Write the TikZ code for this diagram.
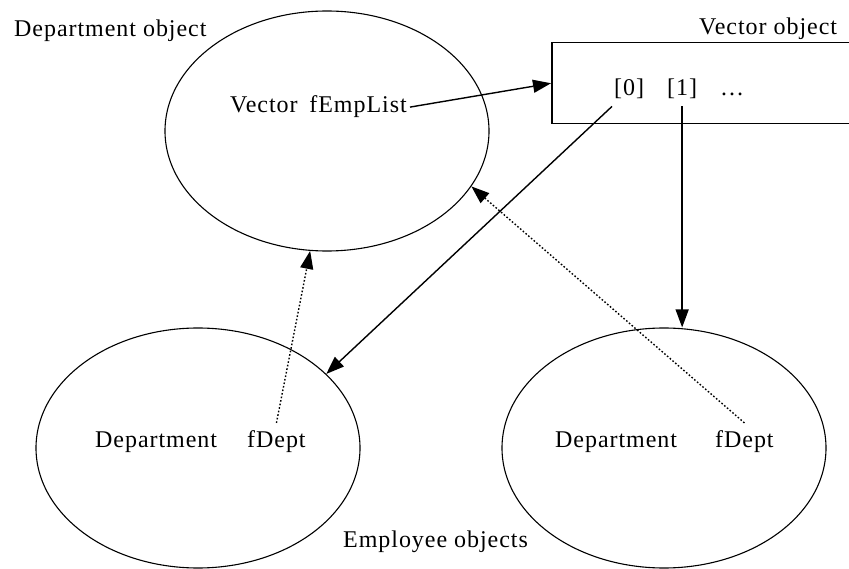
\documentclass[tikz,border=0pt]{standalone}
\usepackage{fontspec}
\setmainfont{Liberation Serif}[LetterSpace=4]
\usetikzlibrary{shapes.geometric,arrows.meta}
\tikzset{objnode/.style={draw,ellipse,line width=1.1pt,minimum width=324pt,minimum height=240pt,inner sep=0pt},
 txt/.style={anchor=base west,inner sep=0pt,font=\fontsize{24}{28}\selectfont},
 ptr/.style={line width=1.4pt,-{Triangle[length=18pt,width=13pt]}},
 backptr/.style={ptr,dash pattern=on 1.6pt off 2pt},
 }

\begin{document}
\begin{tikzpicture}[x=1pt,y=-1pt]
    \useasboundingbox (0,0) rectangle (849,569);
    \clip (0,0) rectangle (849,569);
    % objects
    \node[objnode] (dept) at (327,131) {};
    \node[objnode] (empA) at (198,448) {};
    \node[objnode] (empB) at (664,448) {};
    \node[draw,line width=1.5pt,anchor=north west,minimum width=340pt,minimum height=81pt] (vecbox) at (551,42) {};
    % texts
    \node[txt] (deptlbl) at (14,37) {Department object};
    \node[txt] (veclbl) at (699,35) {Vector object};
    \node[txt] (emplist) at (230,113) {Vector\hspace{0.2em} fEmpList};
    \node[txt] (idx0) at (614,96) {[0]};
    \node[txt] (idx1) at (667,96) {[1]};
    \node[txt] (more) at (720,96) {…};
    \node[txt] (deptA) at (95,447) {Department};
    \node[txt] (fdeptA) at (247,447) {fDept};
    \node[txt] (deptB) at (555,447) {Department};
    \node[txt] (fdeptB) at (715,447) {fDept};
    \node[txt] (emplbl) at (343,547) {Employee objects};
    % pointers
    \draw[ptr] ([xshift=3pt]emplist.east) -- (vecbox.west);
    \draw[ptr] ([shift={(-2pt,-7pt)}]idx0.south west) -- (empA.30);
    \draw[ptr] ([yshift=-7pt]idx1.south) -- (idx1.south |- empB.north);
    \draw[backptr] ([yshift=7pt]fdeptA.north) -- (dept.-98);
    \draw[backptr] ([yshift=7pt]fdeptB.north) -- (dept.-21);
\end{tikzpicture}
\end{document}
